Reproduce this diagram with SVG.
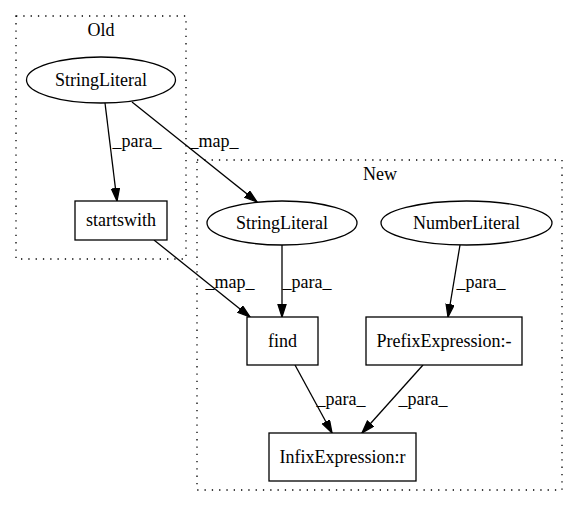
<svg xmlns="http://www.w3.org/2000/svg" width="579" height="508" viewBox="0 0 579 508">
<defs>
<style>
text{font-family:"Liberation Serif","Times New Roman",serif;font-size:18px;fill:#000;text-anchor:middle}
.cl{fill:none;stroke:#000;stroke-width:1.3;stroke-dasharray:1.3,6}
.nd{fill:#fff;stroke:#000;stroke-width:1.3}
.ed{fill:none;stroke:#000;stroke-width:1.3;marker-end:url(#ah)}
</style>
<marker id="ah" markerUnits="userSpaceOnUse" markerWidth="14" markerHeight="10" refX="13" refY="4.5" orient="auto">
<path d="M0.5,0.5 L13,4.5 L0.5,8.5 z" fill="#000" stroke="#000" stroke-width="1.3"/>
</marker>
</defs>
<rect width="579" height="508" fill="#fff"/>
<g id="cluster_old">
<rect class="cl" x="16" y="16" width="170" height="243"/>
<text x="101" y="36">Old</text>
</g>
<g id="cluster_new">
<rect class="cl" x="197" y="160" width="365" height="330"/>
<text x="380" y="180">New</text>
</g>
<g id="connectors">
<line class="ed" x1="105" y1="103" x2="117" y2="201"/>
<text x="137" y="147">_para_</text>
<line class="ed" x1="132" y1="102" x2="257" y2="202"/>
<text x="214" y="147">_map_</text>
<line class="ed" x1="154" y1="240" x2="250" y2="317"/>
<text x="230" y="288">_map_</text>
<line class="ed" x1="282" y1="245" x2="282" y2="317"/>
<text x="307" y="288">_para_</text>
<line class="ed" x1="460" y1="245" x2="448" y2="317"/>
<text x="481" y="288">_para_</text>
<line class="ed" x1="295" y1="365" x2="332" y2="433"/>
<text x="341" y="405">_para_</text>
<line class="ed" x1="423" y1="365" x2="362" y2="433"/>
<text x="423" y="405">_para_</text>
</g>
<g id="old_stringliteral">
<ellipse class="nd" cx="101" cy="80" rx="74.5" ry="23"/>
<text x="101" y="86">StringLiteral</text>
</g>
<g id="startswith">
<rect class="nd" x="75" y="201" width="92" height="39"/>
<text x="121" y="226">startswith</text>
</g>
<g id="new_stringliteral">
<ellipse class="nd" cx="282" cy="223" rx="75" ry="22"/>
<text x="282" y="229">StringLiteral</text>
</g>
<g id="numberliteral">
<ellipse class="nd" cx="466.5" cy="223" rx="85.5" ry="22"/>
<text x="466.5" y="229">NumberLiteral</text>
</g>
<g id="find">
<rect class="nd" x="247" y="317" width="71" height="48"/>
<text x="282.5" y="347">find</text>
</g>
<g id="prefixexpression">
<rect class="nd" x="366" y="317" width="156" height="48"/>
<text x="444" y="347">PrefixExpression:-</text>
</g>
<g id="infixexpression">
<rect class="nd" x="269" y="433" width="147" height="48"/>
<text x="342.5" y="463">InfixExpression:r</text>
</g>
</svg>
